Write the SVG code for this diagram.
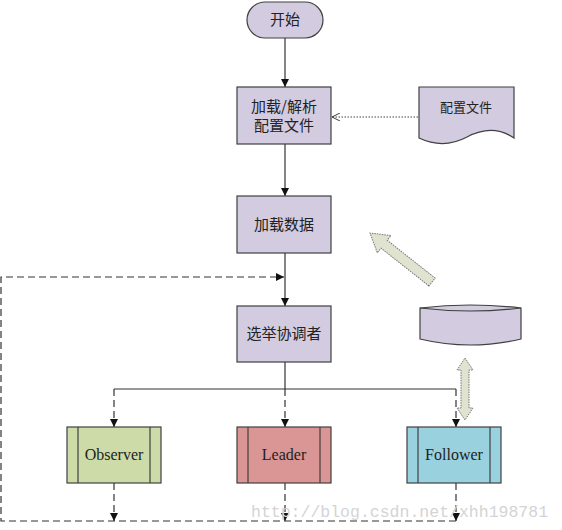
<svg xmlns="http://www.w3.org/2000/svg" width="562" height="530" viewBox="0 0 562 530">
<defs>
<style>
.box{fill:#d3cbe0;stroke:#404040;stroke-width:1.2}
.cn{font-family:"Noto Sans CJK SC","Noto Sans",sans-serif;font-size:15px;fill:#222;text-anchor:middle}
.en{font-family:"Liberation Serif",serif;font-size:16px;fill:#222;text-anchor:middle}
.solid{fill:none;stroke:#333;stroke-width:1.2}
.dash{fill:none;stroke:#333;stroke-width:1.2;stroke-dasharray:7,4}
.dot{fill:none;stroke:#444;stroke-width:1;stroke-dasharray:1.5,1.5}
.blk{fill:#dfe3cf;stroke:#777;stroke-width:1;stroke-dasharray:1.5,1}
.inner{stroke:#404040;stroke-width:1.2}
</style>
<marker id="ah" viewBox="0 0 10 10" refX="10" refY="5" markerWidth="8" markerHeight="8" markerUnits="userSpaceOnUse" orient="auto">
<path d="M0,0 L10,5 L0,10 Z" fill="#111"/>
</marker>
<marker id="ao" viewBox="0 0 10 10" refX="10" refY="5" markerWidth="8" markerHeight="8" markerUnits="userSpaceOnUse" orient="auto">
<path d="M0,0 L10,5 L0,10" fill="none" stroke="#333" stroke-width="1.2"/>
</marker>
</defs>
<rect width="562" height="530" fill="#fff"/>
<g id="connectors">
<line class="solid" x1="285" y1="38" x2="285" y2="87" marker-end="url(#ah)"/>
<line class="solid" x1="285" y1="144" x2="285" y2="196" marker-end="url(#ah)"/>
<line class="solid" x1="285" y1="253" x2="285" y2="306" marker-end="url(#ah)"/>
<line class="dot" x1="418" y1="117" x2="332" y2="117" marker-end="url(#ao)"/>
<polyline class="solid" points="285,362 285,389"/>
<polyline class="solid" points="114,389 456,389"/>
<line class="dash" x1="114" y1="389" x2="114" y2="427" marker-end="url(#ah)"/>
<line class="dash" x1="285" y1="389" x2="285" y2="427" marker-end="url(#ah)"/>
<line class="dash" x1="456" y1="389" x2="456" y2="427" marker-end="url(#ah)"/>
<line class="dash" x1="114" y1="483" x2="114" y2="521" marker-end="url(#ah)"/>
<line class="dash" x1="285" y1="483" x2="285" y2="521" marker-end="url(#ah)"/>
<line class="dash" x1="456" y1="483" x2="456" y2="521" marker-end="url(#ah)"/>
<polyline class="dash" points="456,521 1,521 1,277 284,277" marker-end="url(#ah)"/>
<polygon class="blk" transform="translate(432,282) rotate(218.3)" points="0,-5 61,-5 61,-11 79,0 61,11 61,5 0,5"/>
<polygon class="blk" points="465,358 473,370 469,370 469,408 473,408 465,420 457,408 461,408 461,370 457,370"/>
</g>
<g id="start">
<rect class="box" x="247" y="2" width="76" height="36" rx="18" ry="18"/>
<text class="cn" x="285" y="25">开始</text>
</g>
<g id="load-parse">
<rect class="box" x="237" y="87" width="94" height="57"/>
<text class="cn" x="284" y="112">加载/解析</text>
<text class="cn" x="284" y="131">配置文件</text>
</g>
<g id="config-file">
<path class="box" d="M419,87 H514 V138 C498,127 482,129 467,137 C452,145 436,146 419,138 Z"/>
<text class="cn" x="466" y="112" style="font-size:13px">配置文件</text>
</g>
<g id="load-data">
<rect class="box" x="237" y="196" width="94" height="57"/>
<text class="cn" x="284" y="230">加载数据</text>
</g>
<g id="elect">
<rect class="box" x="237" y="306" width="94" height="56"/>
<text class="cn" x="284" y="339">选举协调者</text>
</g>
<g id="database">
<path class="box" d="M420,308 Q470,302 521,308 L521,339 Q470,351 420,339 Z"/>
<path d="M420,308 Q470,314 521,308" fill="none" stroke="#404040" stroke-width="1.2"/>
</g>
<g id="observer">
<rect x="67" y="427" width="94" height="56" fill="#cddba8" stroke="#404040" stroke-width="1.2"/>
<line class="inner" x1="78" y1="427" x2="78" y2="483"/>
<line class="inner" x1="150" y1="427" x2="150" y2="483"/>
<text class="en" x="114" y="460">Observer</text>
</g>
<g id="leader">
<rect x="237" y="427" width="94" height="56" fill="#da9694" stroke="#404040" stroke-width="1.2"/>
<line class="inner" x1="248" y1="427" x2="248" y2="483"/>
<line class="inner" x1="320" y1="427" x2="320" y2="483"/>
<text class="en" x="284" y="460">Leader</text>
</g>
<g id="follower">
<rect x="407" y="427" width="94" height="56" fill="#99d1de" stroke="#404040" stroke-width="1.2"/>
<line class="inner" x1="418" y1="427" x2="418" y2="483"/>
<line class="inner" x1="490" y1="427" x2="490" y2="483"/>
<text class="en" x="454" y="460">Follower</text>
</g>
<text x="251" y="517" style="font-family:'Liberation Mono',monospace;font-size:16.5px;fill:#d4d4d4">http://blog.csdn.net/xhh198781</text>
</svg>
